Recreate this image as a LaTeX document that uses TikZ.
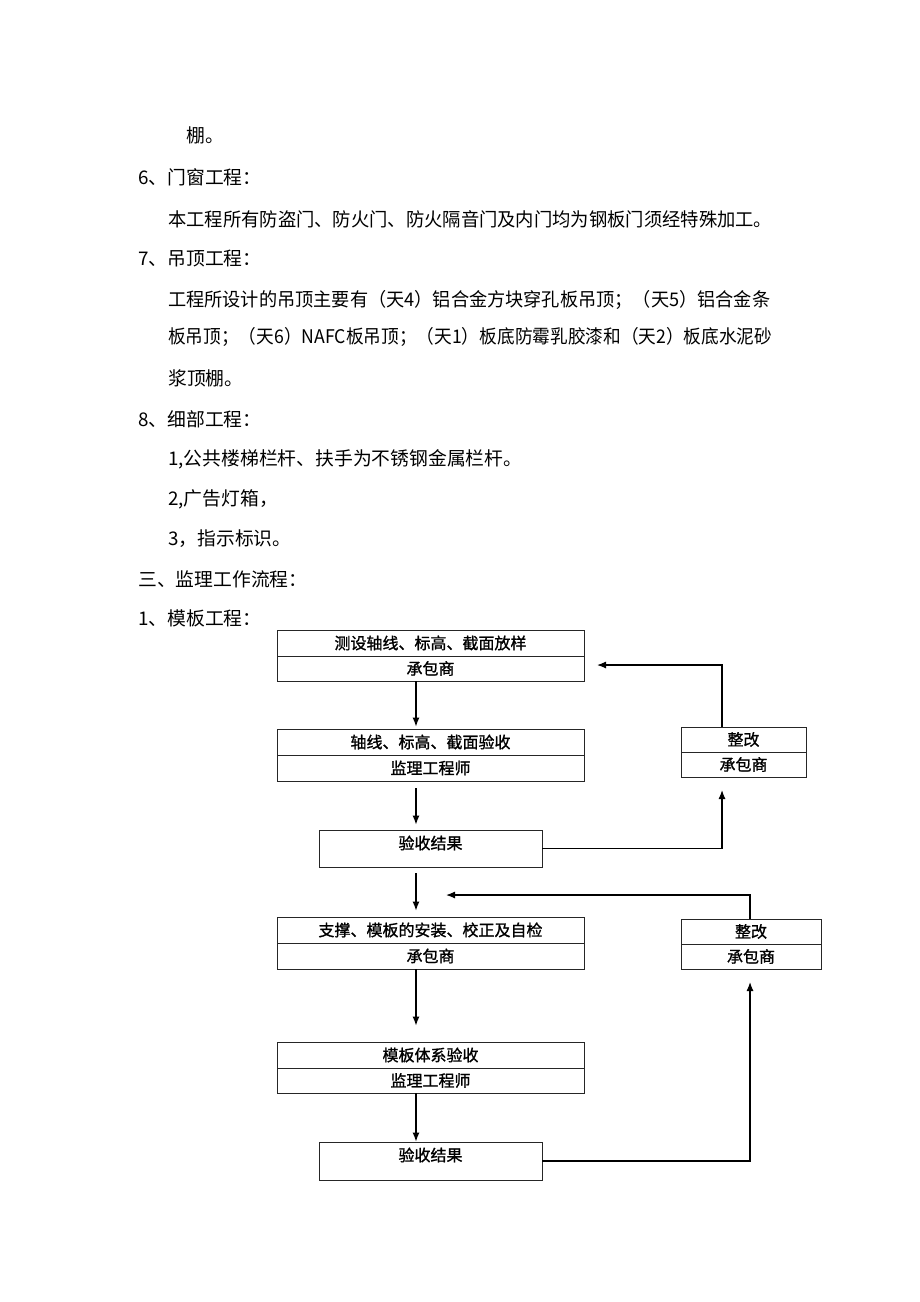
\documentclass[tikz,border=0pt]{standalone}
\usepackage{fontspec}
\usepackage{graphicx}
\usetikzlibrary{arrows.meta,calc}
\newfontfamily\cjk{Noto Sans CJK SC}
\newfontfamily\cjkb[FakeBold=1.2]{Noto Sans CJK SC}
\begin{document}
\begin{tikzpicture}[x=1pt,y=-1pt,
  body/.style={anchor=west,inner sep=0pt,font=\cjk\fontsize{18.8}{24}\selectfont},
  cell/.style={draw=black!85,line width=0.9pt,minimum width=307pt,inner sep=0pt,font=\cjkb\fontsize{16}{18}\selectfont},
  rcell/.style={draw=black!85,line width=0.9pt,inner sep=0pt,font=\cjkb\fontsize{16}{18}\selectfont},
  lbl/.style={inner sep=0pt,font=\cjkb\fontsize{16}{18}\selectfont},
  arr/.style={line width=1.2pt,-{Latex[length=9pt,width=7pt]}}]
\useasboundingbox (0,0) rectangle (920,1302);
\fill[white] (0,0) rectangle (920,1302);
% body text
\node[body] (t1) at (186,135) {棚。};
\node[body] (t2) at (138,177) {6、门窗工程：};
\node[body] (t3) at (168,219) {\resizebox{604pt}{\height}{本工程所有防盗门、防火门、防火隔音门及内门均为钢板门须经特殊加工。}};
\node[body] (t4) at (138,258) {7、吊顶工程：};
\node[body] (t5) at (168,300) {\resizebox{602pt}{\height}{工程所设计的吊顶主要有（天4）铝合金方块穿孔板吊顶；（天5）铝合金条}};
\node[body] (t6) at (168,337) {\resizebox{604pt}{\height}{板吊顶；（天6）NAFC板吊顶；（天1）板底防霉乳胶漆和（天2）板底水泥砂}};
\node[body] (t7) at (168,378) {浆顶棚。};
\node[body] (t8) at (138,419) {8、细部工程：};
\node[body] (t9) at (168,459) {1,公共楼梯栏杆、扶手为不锈钢金属栏杆。};
\node[body] (t10) at (168,499) {2,广告灯箱，};
\node[body] (t11) at (168,539) {3，指示标识。};
\node[body] (t12) at (138,579) {三、监理工作流程：};
\node[body] (t13) at (138,618) {1、模板工程：};
% left column boxes
\node[cell,minimum height=26pt] (b1t) at (430.5,643) {测设轴线、标高、截面放样};
\node[cell,minimum height=25pt] (b1b) at (430.5,668.5) {承包商};
\node[cell,minimum height=26pt] (b2t) at (430.5,742) {轴线、标高、截面验收};
\node[cell,minimum height=26pt] (b2b) at (430.5,768) {监理工程师};
\node[draw=black!85,line width=0.9pt,minimum width=223pt,minimum height=37pt,inner sep=0pt] (b3) at (430.5,848.5) {};
\node[lbl] (b3l) at (430.5,843) {验收结果};
\node[cell,minimum height=26pt] (b4t) at (430.5,930) {支撑、模板的安装、校正及自检};
\node[cell,minimum height=26pt] (b4b) at (430.5,956) {承包商};
\node[cell,minimum height=26pt] (b5t) at (430.5,1055) {模板体系验收};
\node[cell,minimum height=25pt] (b5b) at (430.5,1080.5) {监理工程师};
\node[draw=black!85,line width=0.9pt,minimum width=223pt,minimum height=38pt,inner sep=0pt] (b6) at (430.5,1161) {};
\node[lbl] (b6l) at (430.5,1155) {验收结果};
% right boxes
\node[rcell,minimum width=125pt,minimum height=25pt] (r1t) at (743.5,739.5) {整改};
\node[rcell,minimum width=125pt,minimum height=25pt] (r1b) at (743.5,764.5) {承包商};
\node[rcell,minimum width=140pt,minimum height=25pt] (r2t) at (751,931.5) {整改};
\node[rcell,minimum width=140pt,minimum height=25pt] (r2b) at (751,956.5) {承包商};
% helper coordinates
\coordinate (ax) at (416,0);
\coordinate (u1) at (722,790);
\coordinate (k1) at (722,665);
\coordinate (e1) at (597,665);
\coordinate (u2) at (750,982);
\coordinate (k2) at (750,895);
\coordinate (e2) at (446,895);
% main flow arrows
\draw[arr,shorten >=2pt] (b1b.south -| ax) -- (b2t.north -| ax);
\draw[arr,shorten <=7pt,shorten >=5pt] (b2b.south -| ax) -- (b3.north -| ax);
\draw[arr,shorten <=6pt,shorten >=6pt] (b3.south -| ax) -- (b4t.north -| ax);
\draw[arr,shorten >=16pt] (b4b.south -| ax) -- (b5t.north -| ax);
\draw[arr] (b5b.south -| ax) -- (b6.north -| ax);
% feedback loops
\draw[arr] (b3.east) -| (u1);
\draw[arr] (r1t.north -| k1) |- (e1);
\draw[arr] (b6.east) -| (u2);
\draw[arr] (r2t.north -| k2) |- (e2);
\end{tikzpicture}
\end{document}
